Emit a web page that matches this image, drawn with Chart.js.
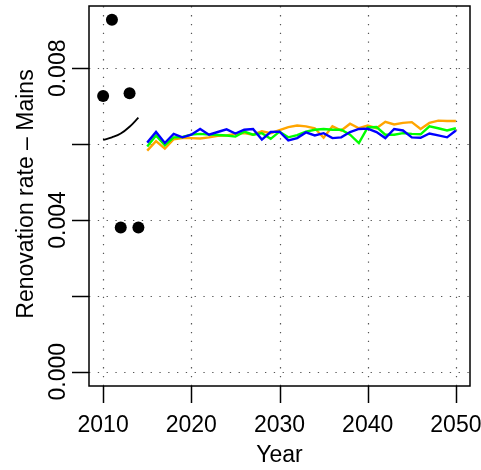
<!DOCTYPE html>
<html>
<head>
<meta charset="utf-8">
<script src="https://cdn.jsdelivr.net/npm/chart.js@4/dist/chart.umd.min.js"></script>
<style>
html,body{margin:0;padding:0;background:#fff;}
#wrap{width:481px;height:470px;position:relative;}
</style>
</head>
<body>
<div id="wrap"><canvas id="c" width="481" height="470"></canvas></div>
<script>
// ---- data ----
const obsYears = [2010, 2011, 2012, 2013, 2014];
const obsValues = [0.00727, 0.00928, 0.00380, 0.00734, 0.00380];
const fitYears = [2010, 2011, 2012, 2013, 2014];
const fitValues = [0.00611, 0.00618, 0.00628, 0.00646, 0.00670];
const projYears = [2015,2016,2017,2018,2019,2020,2021,2022,2023,2024,2025,2026,2027,2028,2029,2030,2031,2032,2033,2034,2035,2036,2037,2038,2039,2040,2041,2042,2043,2044,2045,2046,2047,2048,2049,2050];
const blueValues = [0.00604,0.00632,0.00603,0.00627,0.00618,0.00625,0.00640,0.00625,0.00632,0.00639,0.00628,0.00638,0.00640,0.00612,0.00632,0.00633,0.00610,0.00616,0.00631,0.00623,0.00629,0.00616,0.00618,0.00632,0.00640,0.00641,0.00632,0.00616,0.00640,0.00636,0.00618,0.00617,0.00628,0.00623,0.00618,0.00636];
const greenValues = [0.00594,0.00623,0.00597,0.00618,0.00619,0.00625,0.00627,0.00625,0.00624,0.00623,0.00620,0.00633,0.00625,0.00629,0.00614,0.00633,0.00618,0.00624,0.00633,0.00638,0.00640,0.00638,0.00638,0.00625,0.00603,0.00644,0.00645,0.00625,0.00625,0.00629,0.00627,0.00626,0.00647,0.00642,0.00636,0.00642];
const orangeValues = [0.00583,0.00608,0.00588,0.00613,0.00616,0.00616,0.00615,0.00618,0.00622,0.00623,0.00627,0.00629,0.00625,0.00634,0.00629,0.00637,0.00645,0.00649,0.00647,0.00642,0.00617,0.00647,0.00636,0.00654,0.00642,0.00649,0.00642,0.00659,0.00652,0.00656,0.00658,0.00640,0.00656,0.00662,0.00661,0.00661];
const xTicks = [2010, 2020, 2030, 2040, 2050];
const xTickLabels = ['2010', '2020', '2030', '2040', '2050'];
const yTicks = [0, 0.002, 0.004, 0.006, 0.008];
const yTickLabels = ['0.000', '', '0.004', '', '0.008'];
const xTitle = 'Year';
const yTitle = 'Renovation rate \u2013 Mains';

const FONT = '"Liberation Sans", Arial, Helvetica, sans-serif';
const FS = 23;

function pts(xs, ys) { return xs.map((x, i) => ({x: x, y: ys[i]})); }

const frame = {
  id: 'frame',
  beforeDatasetsDraw(chart) {
    const ctx = chart.ctx, a = chart.chartArea;
    const xs = chart.scales.x, ys = chart.scales.y;
    ctx.save();
    ctx.strokeStyle = '#555';
    ctx.lineWidth = 1.2;
    ctx.setLineDash([1.3, 7.5]);
    xTicks.forEach(v => {
      const px = Math.round(xs.getPixelForValue(v)) + 0.5;
      ctx.beginPath(); ctx.moveTo(px, a.bottom); ctx.lineTo(px, a.top); ctx.stroke();
    });
    yTicks.forEach(v => {
      const py = Math.round(ys.getPixelForValue(v)) + 0.5;
      ctx.beginPath(); ctx.moveTo(a.left, py); ctx.lineTo(a.right, py); ctx.stroke();
    });
    ctx.restore();
  },
  afterDraw(chart) {
    const ctx = chart.ctx, a = chart.chartArea;
    const xs = chart.scales.x, ys = chart.scales.y;
    ctx.save();
    ctx.strokeStyle = '#000';
    ctx.lineWidth = 1.5;
    ctx.setLineDash([]);
    ctx.strokeRect(a.left, a.top, a.right - a.left, a.bottom - a.top);
    xTicks.forEach(v => {
      const px = Math.round(xs.getPixelForValue(v)) + 0.5;
      ctx.beginPath(); ctx.moveTo(px, a.bottom); ctx.lineTo(px, a.bottom + 17); ctx.stroke();
    });
    yTicks.forEach(v => {
      const py = Math.round(ys.getPixelForValue(v)) + 0.5;
      ctx.beginPath(); ctx.moveTo(a.left, py); ctx.lineTo(a.left - 17, py); ctx.stroke();
    });
    ctx.fillStyle = '#000';
    ctx.font = FS + 'px ' + FONT;
    ctx.textAlign = 'center';
    ctx.textBaseline = 'alphabetic';
    xTicks.forEach((v, i) => {
      ctx.fillText(xTickLabels[i], xs.getPixelForValue(v), 432);
    });
    yTicks.forEach((v, i) => {
      if (!yTickLabels[i]) return;
      ctx.save();
      ctx.translate(65, ys.getPixelForValue(v));
      ctx.rotate(-Math.PI / 2);
      ctx.fillText(yTickLabels[i], 0, 0);
      ctx.restore();
    });
    ctx.fillText(xTitle, (a.left + a.right) / 2, 462);
    ctx.save();
    ctx.translate(33, 194);
    ctx.rotate(-Math.PI / 2);
    ctx.fillText(yTitle, 0, 0);
    ctx.restore();
    ctx.restore();
  }
};

new Chart(document.getElementById('c'), {
  type: 'scatter',
  data: {
    datasets: [
      { data: pts(projYears, blueValues), showLine: true, borderColor: '#0000FF', borderWidth: 2.4, pointRadius: 0, fill: false, tension: 0 },
      { data: pts(projYears, greenValues), showLine: true, borderColor: '#00FF00', borderWidth: 2.4, pointRadius: 0, fill: false, tension: 0 },
      { data: pts(projYears, orangeValues), showLine: true, borderColor: '#FFA500', borderWidth: 2.4, pointRadius: 0, fill: false, tension: 0 },
      { data: pts(fitYears, fitValues), showLine: true, borderColor: '#000', borderWidth: 1.8, pointRadius: 0, fill: false, tension: 0.4 },
      { data: pts(obsYears, obsValues), showLine: false, backgroundColor: '#000', borderColor: '#000', pointRadius: 6, pointBorderWidth: 0 }
    ]
  },
  options: {
    responsive: false,
    animation: false,
    devicePixelRatio: 1,
    layout: { padding: { left: 89, right: 11, top: 6, bottom: 84 } },
    plugins: { legend: { display: false }, tooltip: { enabled: false } },
    scales: {
      x: { type: 'linear', display: false, min: 2008.4, max: 2051.6 },
      y: { type: 'linear', display: false, min: -0.000377, max: 0.009643 }
    }
  },
  plugins: [frame]
});
</script>
</body>
</html>
